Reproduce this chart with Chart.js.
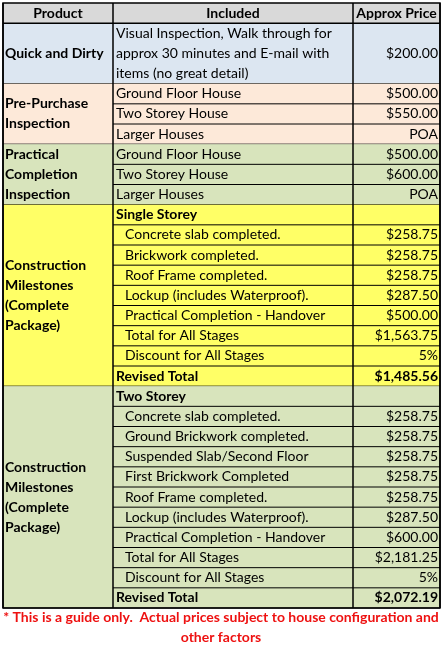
<!DOCTYPE html>
<html><head><meta charset="utf-8">
<script src="https://cdn.jsdelivr.net/npm/chart.js@4"></script>
<style>html,body{margin:0;padding:0;background:#fff}</style>
</head><body>
<canvas id="c" width="443" height="647"></canvas>
<script>
const headers = ['Product','Included','Approx Price'];
const colEdges = [0, 110, 350, 437];
const groupLabels = [['Quick and Dirty'],['Pre-Purchase','Inspection'],['Practical','Completion','Inspection'],['Construction','Milestones','(Complete','Package)'],['Construction','Milestones','(Complete','Package)']];
const groupColors = ['#dce6f1','#fde9d9','#d8e4bc','#ffff66','#d8e4bc'];
const groupRows = [1,3,3,9,11];
const included = [
 ['Visual Inspection, Walk through for','approx 30 minutes and E-mail with','items (no great detail)'],
 ['Ground Floor House'],['Two Storey House'],['Larger Houses'],
 ['Ground Floor House'],['Two Storey House'],['Larger Houses'],
 ['Single Storey'],['Concrete slab completed.'],['Brickwork completed.'],['Roof Frame completed.'],['Lockup (includes Waterproof).'],['Practical Completion - Handover'],['Total for All Stages'],['Discount for All Stages'],['Revised Total'],
 ['Two Storey'],['Concrete slab completed.'],['Ground Brickwork completed.'],['Suspended Slab/Second Floor'],['First Brickwork Completed'],['Roof Frame completed.'],['Lockup (includes Waterproof).'],['Practical Completion - Handover'],['Total for All Stages'],['Discount for All Stages'],['Revised Total']
];
const prices = ['$200.00','$500.00','$550.00','POA','$500.00','$600.00','POA','','$258.75','$258.75','$258.75','$287.50','$500.00','$1,563.75','5%','$1,485.56','','$258.75','$258.75','$258.75','$258.75','$258.75','$287.50','$600.00','$2,181.25','5%','$2,072.19'];
const rowSpans = [3,1,1,1,1,1,1,1,1,1,1,1,1,1,1,1,1,1,1,1,1,1,1,1,1,1,1];
const indent = [0,0,0,0,0,0,0,0,1,1,1,1,1,1,1,0,0,1,1,1,1,1,1,1,1,1,0];
const boldRow = [0,0,0,0,0,0,0,1,0,0,0,0,0,0,0,1,1,0,0,0,0,0,0,0,0,0,1];
const footnote = ['* This is a guide only.  Actual prices subject to house configuration and','other factors'];

const F = '"Lato",sans-serif';
const FS = '14px ';
const tablePlugin = {
 id:'tbl',
 afterDraw(ch){
  const c=ch.ctx, xs=ch.scales.x, ys=ch.scales.y;
  const X=v=>xs.getPixelForValue(v), Y=v=>ys.getPixelForValue(v);
  c.save(); c.textBaseline='middle';
  c.fillStyle='#d9d9d9'; c.fillRect(X(0),Y(0),X(437)-X(0),Y(1)-Y(0));
  c.fillStyle='#000'; c.font='bold '+FS+F; c.textAlign='center';
  headers.forEach((h,i)=>c.fillText(h,(X(colEdges[i])+X(colEdges[i+1]))/2,(Y(0)+Y(1))/2));
  let r=1, idx=0;
  groupRows.forEach((n,g)=>{
   let units=0; for(let k=0;k<n;k++) units+=rowSpans[idx+k];
   c.fillStyle=groupColors[g]; c.fillRect(X(0),Y(r),X(437)-X(0),Y(r+units)-Y(r));
   c.fillStyle='#000'; c.font='bold '+FS+F; c.textAlign='left';
   const lines=groupLabels[g], mid=(Y(r)+Y(r+units))/2, lh=20;
   lines.forEach((t,i)=>c.fillText(t,X(2),mid+(i-(lines.length-1)/2)*lh));
   let rr=r;
   for(let k=0;k<n;k++,idx++){
    const s=rowSpans[idx], top=Y(rr), bot=Y(rr+s);
    c.font=(boldRow[idx]?'bold ':'')+FS+F;
    c.textAlign='left'; c.fillStyle='#000';
    const tl=included[idx];
    tl.forEach((t,i)=>c.fillText(t,X(colEdges[1]+3+indent[idx]*9),(top+bot)/2+(i-(tl.length-1)/2)*20));
    c.textAlign='right';
    c.fillText(prices[idx],X(435),(top+bot)/2);
    c.strokeStyle='#000'; c.lineWidth=1;
    c.beginPath();
    if(k<n-1){c.moveTo(X(colEdges[1]),bot);c.lineTo(X(437),bot);}
    c.stroke();
    rr+=s;
   }
   r+=units;
   c.beginPath(); c.moveTo(X(0),Y(r)); c.lineTo(X(437),Y(r)); c.stroke();
  });
  c.strokeStyle='#000'; c.lineWidth=1.5;
  c.beginPath(); c.moveTo(X(0),Y(1)); c.lineTo(X(437),Y(1)); c.stroke();
  c.beginPath();
  colEdges.forEach(e=>{c.moveTo(X(e),Y(0));c.lineTo(X(e),Y(r));});
  c.stroke();
  c.strokeRect(X(0),Y(0),X(437)-X(0),Y(r)-Y(0));
  c.fillStyle='#ee1111'; c.font='bold 14px '+F; c.textAlign='center';
  footnote.forEach((t,i)=>c.fillText(t,221,ch.height-30+i*20));
  c.restore();
 }
};
new Chart(document.getElementById('c'),{
 type:'scatter', data:{datasets:[{data:[]}]},
 options:{responsive:false,animation:false,
  layout:{padding:{left:3,right:3,top:3,bottom:39}},
  plugins:{legend:{display:false},tooltip:{enabled:false}},
  scales:{x:{type:'linear',min:0,max:437,display:false},y:{type:'linear',min:0,max:30,reverse:true,display:false}}},
 plugins:[tablePlugin]
});
</script></body></html>
